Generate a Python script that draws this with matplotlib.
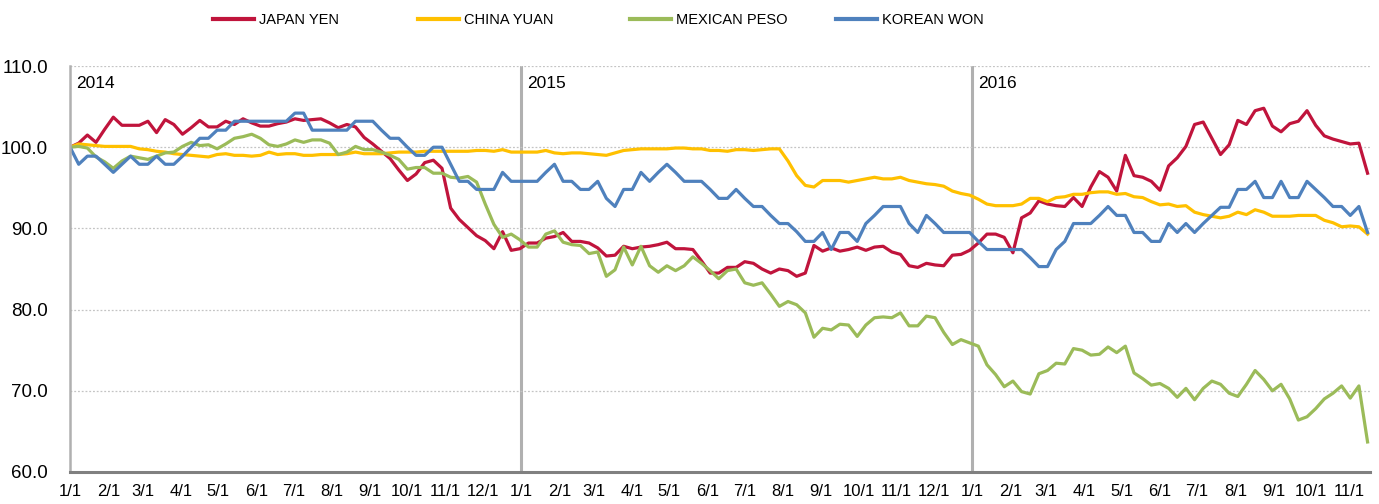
import numpy as np
import pandas as pd
import matplotlib
matplotlib.use("Agg")
import matplotlib.pyplot as plt
from matplotlib.lines import Line2D

# weekly index values, 1/1/2014 = 100
japan_yen = [
    100.0, 100.5, 101.5, 100.6, 102.2, 103.7, 102.7, 102.7, 102.7, 103.2,
    101.8, 103.4, 102.8, 101.6, 102.4, 103.3, 102.5, 102.5, 103.2, 102.8,
    103.5, 103.0, 102.6, 102.6, 102.9, 103.1, 103.5, 103.3, 103.4, 103.5,
    103.0, 102.4, 102.8, 102.5, 101.2, 100.4, 99.5, 98.6, 97.2, 95.9,
    96.7, 98.1, 98.4, 97.4, 92.5, 91.1, 90.1, 89.1, 88.5, 87.5,
    89.6, 87.3, 87.5, 88.2, 88.2, 88.8, 89.0, 89.5, 88.4, 88.4,
    88.2, 87.6, 86.6, 86.7, 87.8, 87.5, 87.7, 87.8, 88.0, 88.3,
    87.5, 87.5, 87.4, 86.0, 84.5, 84.5, 85.2, 85.2, 85.9, 85.7,
    85.0, 84.5, 85.0, 84.8, 84.1, 84.5, 87.9, 87.2, 87.6, 87.2,
    87.4, 87.7, 87.3, 87.7, 87.8, 87.1, 86.8, 85.4, 85.2, 85.7,
    85.5, 85.4, 86.7, 86.8, 87.3, 88.2, 89.3, 89.3, 88.9, 87.0,
    91.3, 91.9, 93.4, 93.0, 92.8, 92.7, 93.8, 92.7, 95.1, 97.0,
    96.3, 94.6, 99.0, 96.5, 96.3, 95.8, 94.7, 97.7, 98.7, 100.1,
    102.8, 103.1, 101.1, 99.1, 100.3, 103.3, 102.8, 104.5, 104.8, 102.6,
    101.9, 102.9, 103.2, 104.5, 102.7, 101.4, 101.0, 100.7, 100.4, 100.5,
    96.8,
]
china_yuan = [
    100.0, 100.4, 100.3, 100.2, 100.1, 100.1, 100.1, 100.1, 99.8, 99.7,
    99.5, 99.4, 99.2, 99.1, 99.0, 98.9, 98.8, 99.1, 99.2, 99.0,
    99.0, 98.9, 99.0, 99.4, 99.1, 99.2, 99.2, 99.0, 99.0, 99.1,
    99.1, 99.1, 99.2, 99.4, 99.2, 99.2, 99.2, 99.3, 99.4, 99.4,
    99.4, 99.5, 99.5, 99.5, 99.5, 99.5, 99.5, 99.6, 99.6, 99.5,
    99.7, 99.4, 99.4, 99.4, 99.4, 99.6, 99.3, 99.2, 99.3, 99.3,
    99.2, 99.1, 99.0, 99.3, 99.6, 99.7, 99.8, 99.8, 99.8, 99.8,
    99.9, 99.9, 99.8, 99.8, 99.6, 99.6, 99.5, 99.7, 99.7, 99.6,
    99.7, 99.8, 99.8, 98.3, 96.5, 95.3, 95.1, 95.9, 95.9, 95.9,
    95.7, 95.9, 96.1, 96.3, 96.1, 96.1, 96.3, 95.9, 95.7, 95.5,
    95.4, 95.2, 94.6, 94.3, 94.1, 93.6, 93.0, 92.8, 92.8, 92.8,
    93.0, 93.7, 93.7, 93.3, 93.8, 93.9, 94.2, 94.2, 94.4, 94.5,
    94.5, 94.2, 94.3, 93.9, 93.8, 93.3, 92.9, 93.0, 92.7, 92.8,
    92.0, 91.7, 91.5, 91.3, 91.5, 92.0, 91.7, 92.3, 92.0, 91.5,
    91.5, 91.5, 91.6, 91.6, 91.6, 91.0, 90.7, 90.2, 90.3, 90.2,
    89.3,
]
mexican_peso = [
    100.0, 100.1, 99.9, 98.8, 98.2, 97.4, 98.3, 98.9, 98.7, 98.5,
    98.9, 99.3, 99.4, 100.1, 100.6, 100.2, 100.3, 99.8, 100.4, 101.1,
    101.3, 101.6, 101.1, 100.3, 100.1, 100.4, 100.9, 100.6, 100.9, 100.9,
    100.5, 99.1, 99.4, 100.1, 99.7, 99.7, 99.4, 99.0, 98.5, 97.3,
    97.5, 97.5, 96.8, 96.8, 96.3, 96.2, 96.4, 95.7, 93.0, 90.5,
    88.9, 89.3, 88.6, 87.7, 87.7, 89.3, 89.7, 88.3, 88.0, 87.9,
    86.9, 87.1, 84.1, 84.9, 87.7, 85.5, 87.8, 85.4, 84.6, 85.4,
    84.8, 85.4, 86.5, 85.7, 84.8, 83.8, 84.8, 85.0, 83.3, 83.0,
    83.3, 81.9, 80.4, 81.0, 80.6, 79.6, 76.6, 77.7, 77.5, 78.2,
    78.1, 76.7, 78.1, 79.0, 79.1, 79.0, 79.6, 78.0, 78.0, 79.2,
    79.0, 77.2, 75.7, 76.3, 75.9, 75.5, 73.2, 72.0, 70.5, 71.2,
    69.9, 69.6, 72.1, 72.5, 73.4, 73.3, 75.2, 75.0, 74.4, 74.5,
    75.4, 74.7, 75.5, 72.2, 71.5, 70.7, 70.9, 70.3, 69.2, 70.3,
    68.9, 70.3, 71.2, 70.8, 69.7, 69.3, 70.8, 72.5, 71.4, 70.0,
    70.8, 69.0, 66.4, 66.8, 67.8, 69.0, 69.7, 70.6, 69.1, 70.6,
    63.7,
]
korean_won = [
    100.0, 97.9, 98.9, 98.9, 97.9, 96.9, 97.9, 98.9, 97.9, 97.9,
    98.9, 97.9, 97.9, 98.9, 100.0, 101.1, 101.1, 102.1, 102.1, 103.2,
    103.2, 103.2, 103.2, 103.2, 103.2, 103.2, 104.2, 104.2, 102.1, 102.1,
    102.1, 102.1, 102.1, 103.2, 103.2, 103.2, 102.1, 101.1, 101.1, 100.0,
    99.0, 99.0, 100.0, 100.0, 97.9, 95.8, 95.8, 94.8, 94.8, 94.8,
    96.9, 95.8, 95.8, 95.8, 95.8, 96.9, 97.9, 95.8, 95.8, 94.8,
    94.8, 95.8, 93.7, 92.7, 94.8, 94.8, 96.9, 95.8, 96.9, 97.9,
    96.9, 95.8, 95.8, 95.8, 94.8, 93.7, 93.7, 94.8, 93.7, 92.7,
    92.7, 91.6, 90.6, 90.6, 89.6, 88.4, 88.4, 89.5, 87.4, 89.5,
    89.5, 88.4, 90.6, 91.6, 92.7, 92.7, 92.7, 90.6, 89.5, 91.6,
    90.6, 89.5, 89.5, 89.5, 89.5, 88.4, 87.4, 87.4, 87.4, 87.4,
    87.4, 86.4, 85.3, 85.3, 87.4, 88.4, 90.6, 90.6, 90.6, 91.6,
    92.7, 91.6, 91.6, 89.5, 89.5, 88.4, 88.4, 90.6, 89.5, 90.6,
    89.5, 90.6, 91.6, 92.6, 92.6, 94.8, 94.8, 95.8, 93.8, 93.8,
    95.8, 93.8, 93.8, 95.8, 94.8, 93.8, 92.7, 92.7, 91.6, 92.7,
    89.5,
]

series = ["JAPAN YEN", "CHINA YUAN", "MEXICAN PESO", "KOREAN WON"]
colors = ["#C0143C", "#FFC000", "#9BBB59", "#4F81BD"]
years = ["2014", "2015", "2016"]

dates = pd.date_range("2014-01-01", periods=len(japan_yen), freq="7D")
months = pd.date_range("2014-01-01", "2016-11-01", freq="MS")
month_labels = [f"{d.month}/1" for d in months]

plt.rcParams["font.family"] = ["Liberation Sans", "DejaVu Sans"]

fig = plt.figure(figsize=(13.79, 5.04), dpi=100)
ax = fig.add_axes([0.0508, 0.0635, 0.9427, 0.8055])

for vals, name, c in zip([japan_yen, china_yuan, mexican_peso, korean_won], series, colors):
    ax.plot(dates, vals, color=c, lw=2.3, label=name)

for y in years[1:]:
    ax.axvline(pd.Timestamp(f"{y}-01-01"), color="#b0b0b0", lw=2.2, zorder=0)
for y in years:
    ax.text(pd.Timestamp(f"{y}-01-01") + pd.Timedelta(days=5), 106.9, y,
            fontsize=12.5, color="black", va="bottom")

ax.set_ylim(60, 110)
ax.set_yticks(np.arange(60, 111, 10))
ax.set_yticklabels([f"{v:.1f}" for v in np.arange(60, 111, 10)], fontsize=13.5)
ax.set_xlim(dates[0], dates[-1] + pd.Timedelta(days=2))
ax.set_xticks(months)
ax.set_xticklabels(month_labels, fontsize=12)
ax.tick_params(axis="x", length=0, pad=9)
ax.tick_params(axis="y", length=0, pad=16)
ax.yaxis.grid(True, color="#c4c4c4", ls=(0, (1.5, 1.5)), lw=0.9)
ax.set_axisbelow(True)

for s in ["top", "right"]:
    ax.spines[s].set_visible(False)
ax.spines["left"].set_color("#b0b0b0")
ax.spines["left"].set_linewidth(1.8)
ax.spines["bottom"].set_color("#808080")
ax.spines["bottom"].set_linewidth(2.2)

# legend entries placed one by one along the top
legend_x = [213, 418, 630, 836]
for name, c, x in zip(series, colors, legend_x):
    fig.legend(handles=[Line2D([], [], color=c, lw=3)], labels=[name],
               loc="center left", bbox_to_anchor=(x / 1379, 0.96),
               frameon=False, borderaxespad=0, borderpad=0,
               handlelength=2.8, handletextpad=0.35, fontsize=10.5)

fig.savefig("out.png", dpi=100)
